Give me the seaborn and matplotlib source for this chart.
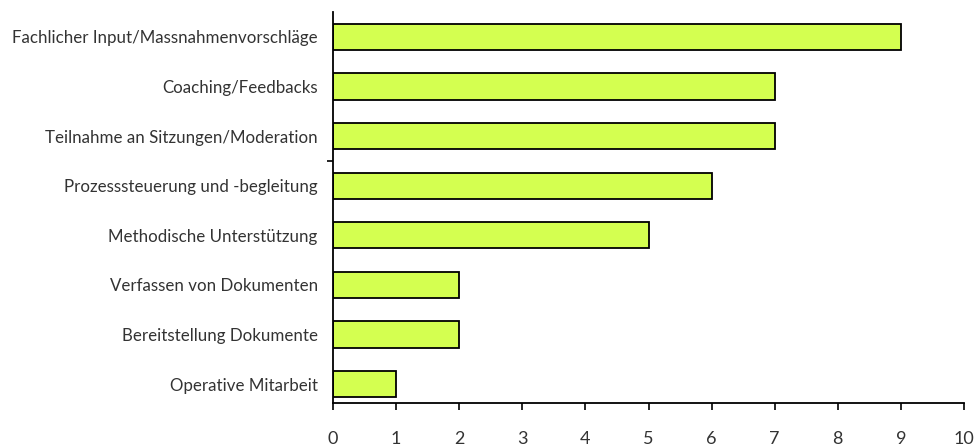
import matplotlib
matplotlib.use("Agg")
import matplotlib.pyplot as plt
import seaborn as sns
import pandas as pd

categories = [
    "Fachlicher Input/Massnahmenvorschläge",
    "Coaching/Feedbacks",
    "Teilnahme an Sitzungen/Moderation",
    "Prozesssteuerung und -begleitung",
    "Methodische Unterstützung",
    "Verfassen von Dokumenten",
    "Bereitstellung Dokumente",
    "Operative Mitarbeit",
]
values = [9, 7, 7, 6, 5, 2, 2, 1]
xticks = list(range(0, 11))

sns.set_theme(style="white")
plt.rcParams["font.family"] = ["Lato", "DejaVu Sans"]

df = pd.DataFrame({"cat": categories, "val": values})

fig = plt.figure(figsize=(9.76, 4.46), dpi=100)
ax = fig.add_axes([0.3412, 0.0964, 0.6465, 0.8767])

sns.barplot(data=df, y="cat", x="val", orient="h", color="#D4FF50",
            edgecolor="black", linewidth=1.3, width=0.53, saturation=1, ax=ax)

ax.set_xlim(0, 10)
ax.set_ylim(7.383, -0.504)
ax.set_xticks(xticks)
ax.set_xticklabels([str(t) for t in xticks])
ax.set_xlabel("")
ax.set_ylabel("")

for s in ["top", "right"]:
    ax.spines[s].set_visible(False)
for s in ["left", "bottom"]:
    ax.spines[s].set_color("black")
    ax.spines[s].set_linewidth(1.3)

ax.tick_params(axis="x", direction="out", length=5, width=1.2, color="black",
               pad=15, labelsize=13, labelcolor="#333333", bottom=True)
ax.tick_params(axis="y", length=0, pad=11, labelsize=12.2, labelcolor="#333333")
ax.set_yticks([2.5], minor=True)
ax.tick_params(axis="y", which="minor", length=4, width=1.2, color="black", left=True)

fig.savefig("out.png", dpi=100)
